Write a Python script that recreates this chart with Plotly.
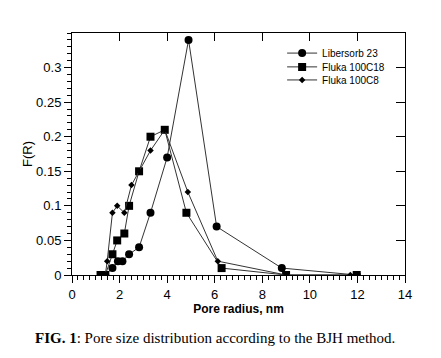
import plotly.graph_objects as go

# Data
lib_x = [1.4, 1.7, 1.93, 2.12, 2.4, 2.82, 3.3, 4.0, 4.9, 6.08, 8.82, 11.97]
lib_y = [0.0, 0.01, 0.02, 0.02, 0.03, 0.04, 0.09, 0.17, 0.34, 0.07, 0.01, 0.0]

c18_x = [1.2, 1.4, 1.7, 1.9, 2.2, 2.4, 2.82, 3.3, 3.9, 4.81, 6.29, 9.0, 11.97]
c18_y = [0.0, 0.0, 0.03, 0.05, 0.06, 0.10, 0.15, 0.20, 0.21, 0.09, 0.01, 0.0, 0.0]

c8_x = [1.4, 1.48, 1.7, 1.9, 2.2, 2.5, 2.82, 3.3, 3.9, 4.87, 6.13, 9.0, 11.7]
c8_y = [0.0, 0.02, 0.09, 0.10, 0.09, 0.13, 0.15, 0.18, 0.21, 0.12, 0.02, 0.0, 0.0]

series_names = ["Libersorb 23", "Fluka 100C18", "Fluka 100C8"]
y_tickvals = [0, 0.05, 0.1, 0.15, 0.2, 0.25, 0.3]
y_ticktext = ["0", "0.05", "0.1", "0.15", "0.2", "0.25", "0.3"]

SANS = "Liberation Sans, Arial, sans-serif"
LINE = "#333333"

fig = go.Figure()
fig.add_trace(go.Scatter(x=lib_x, y=lib_y, mode="lines+markers", name=series_names[0],
                         legend="legend",
                         line=dict(color=LINE, width=1),
                         marker=dict(symbol="circle", size=8, color="black")))
fig.add_trace(go.Scatter(x=c18_x, y=c18_y, mode="lines+markers", name=series_names[1],
                         legend="legend2",
                         line=dict(color=LINE, width=1),
                         marker=dict(symbol="square", size=8, color="black")))
fig.add_trace(go.Scatter(x=c8_x, y=c8_y, mode="lines+markers", name=series_names[2],
                         legend="legend3",
                         line=dict(color=LINE, width=1),
                         marker=dict(symbol="diamond", size=5, color="black")))
# empty trace to bind mirror axes (top / right with inward ticks)
fig.add_trace(go.Scatter(x=[], y=[], xaxis="x2", yaxis="y2", showlegend=False, hoverinfo="skip"))

leg = dict(x=0.631, xanchor="left", yanchor="middle", bgcolor="rgba(0,0,0,0)", borderwidth=0,
           font=dict(size=10, family=SANS, color="black"))

fig.update_layout(
    width=433, height=350,
    margin=dict(l=64, r=36, t=25, b=83, autoexpand=False),
    paper_bgcolor="white", plot_bgcolor="white",
    font=dict(family=SANS, color="black", size=13),
    showlegend=True,
    legend=dict(leg, y=0.917),
    legend2=dict(leg, y=0.860),
    legend3=dict(leg, y=0.806),
    xaxis=dict(range=[0, 14], dtick=2, tick0=0, showgrid=False, zeroline=False, automargin=True,
               showline=True, linecolor="black", linewidth=1,
               ticks="outside", ticklen=7, tickcolor="black",
               minor=dict(dtick=0.25, ticks="outside", ticklen=4, tickcolor="black"),
               tickfont=dict(size=13, family=SANS),
               title=dict(text="<b>Pore radius, nm</b>", font=dict(size=12, family=SANS), standoff=2)),
    yaxis=dict(range=[0, 0.35], tickvals=y_tickvals, ticktext=y_ticktext, automargin=True,
               showgrid=False, zeroline=False,
               showline=True, linecolor="black", linewidth=1,
               ticks="outside", ticklen=7, tickcolor="black",
               minor=dict(dtick=0.01, ticks="outside", ticklen=4, tickcolor="black"),
               tickfont=dict(size=13, family=SANS),
               title=dict(text="F(R)", font=dict(size=13, family=SANS), standoff=0)),
    xaxis2=dict(range=[0, 14], dtick=2, tick0=0, overlaying="x", side="top", anchor="y",
                automargin=False,
                showgrid=False, zeroline=False, showline=True, linecolor="black", linewidth=1,
                ticks="inside", ticklen=8, tickcolor="black", showticklabels=False),
    yaxis2=dict(range=[0, 0.35], tickvals=y_tickvals, overlaying="y", side="right", anchor="x",
                automargin=False,
                showgrid=False, zeroline=False, showline=True, linecolor="black", linewidth=1,
                ticks="inside", ticklen=9, tickcolor="black", showticklabels=False),
    annotations=[dict(text="<b>FIG. 1</b>: Pore size distribution according to the BJH method.",
                      xref="paper", yref="paper", x=0.43, y=-0.262, xanchor="center", yanchor="middle",
                      showarrow=False, font=dict(family="Liberation Serif, Times New Roman, serif",
                                                 size=15, color="black"))],
)

fig.write_html("out.html")
